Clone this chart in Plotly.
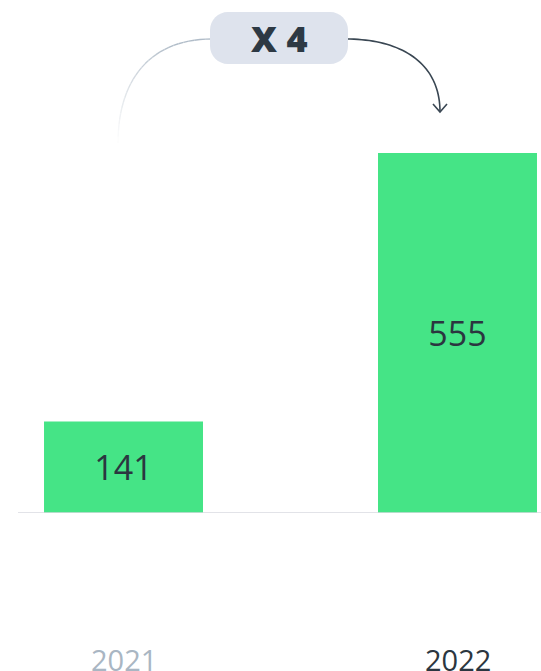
import plotly.graph_objects as go

# ---- data ----
years = ["2021", "2022"]
values = [141, 555]
year_colors = ["#A9B6C3", "#2B3640"]
multiplier_label = "X 4"

# ---- layout constants ----
W, H = 541, 671
ML, MR, MT, MB = 18, 0, 0, 671 - 513
BAR_COLOR = "#45E486"
TEXT_DARK = "#2B3640"

x_pos = list(range(len(years)))
X_RANGE = [-0.3159, 1.25]
Y_RANGE = [0, 791]
plot_w = W - ML - MR
plot_h = H - MT - MB


def px_x(px):
    return X_RANGE[0] + (px - ML) / plot_w * (X_RANGE[1] - X_RANGE[0])


def px_y(py):
    return Y_RANGE[0] + (H - MB - py) / plot_h * (Y_RANGE[1] - Y_RANGE[0])


fig = go.Figure()
fig.add_trace(go.Bar(
    x=x_pos, y=values, width=0.476,
    marker=dict(color=BAR_COLOR, line=dict(width=0)),
    text=[str(v) for v in values], textposition="inside",
    insidetextanchor="middle",
    textfont=dict(family="Open Sans", size=34, color=TEXT_DARK),
    hoverinfo="skip",
))

shapes = []
# baseline
shapes.append(dict(type="line", xref="paper", yref="y", x0=0, x1=1, y0=0, y1=0,
                   line=dict(color="#D8DAE0", width=1.3), layer="above"))


def bez(p0, p1, p2, p3, t):
    u = 1 - t
    return (u**3 * p0[0] + 3 * u * u * t * p1[0] + 3 * u * t * t * p2[0] + t**3 * p3[0],
            u**3 * p0[1] + 3 * u * u * t * p1[1] + 3 * u * t * t * p2[1] + t**3 * p3[1])


# left faded curve (pixel space control points)
L0, L1, L2, L3 = (118, 143), (118, 80), (150, 39), (212, 39)
N = 30
for i in range(N):
    a = bez(L0, L1, L2, L3, i / N)
    b = bez(L0, L1, L2, L3, (i + 1) / N)
    t = (i + 0.5) / N
    c0 = (255, 255, 255)
    c1 = (176, 188, 200)
    f = min(1, t * 1.3)
    col = "rgb(%d,%d,%d)" % tuple(int(c0[k] + (c1[k] - c0[k]) * f) for k in range(3))
    shapes.append(dict(type="line", xref="x", yref="y",
                       x0=px_x(a[0]), y0=px_y(a[1]), x1=px_x(b[0]), y1=px_y(b[1]),
                       line=dict(color=col, width=1.4)))

# right dark arrow curve
R0, R1, R2, R3 = (346, 39), (400, 39), (440, 62), (440, 112)
pts = [bez(R0, R1, R2, R3, i / 40) for i in range(41)]
path = "M " + " L ".join("%f,%f" % (px_x(p[0]), px_y(p[1])) for p in pts)
shapes.append(dict(type="path", xref="x", yref="y", path=path,
                   line=dict(color="#3A4753", width=1.6)))
# arrowhead
head = [(433, 104), (440, 112), (447, 104)]
path = "M " + " L ".join("%f,%f" % (px_x(p[0]), px_y(p[1])) for p in head)
shapes.append(dict(type="path", xref="x", yref="y", path=path,
                   line=dict(color="#3A4753", width=1.6)))

# pill (rounded rect)
x0, x1, y0, y1, r = 210, 348, 12, 64, 18
k = 0.55 * r
pp = [
    ("M", [(x0 + r, y0)]),
    ("L", [(x1 - r, y0)]),
    ("C", [(x1 - r + k, y0), (x1, y0 + r - k), (x1, y0 + r)]),
    ("L", [(x1, y1 - r)]),
    ("C", [(x1, y1 - r + k), (x1 - r + k, y1), (x1 - r, y1)]),
    ("L", [(x0 + r, y1)]),
    ("C", [(x0 + r - k, y1), (x0, y1 - r + k), (x0, y1 - r)]),
    ("L", [(x0, y0 + r)]),
    ("C", [(x0, y0 + r - k), (x0 + r - k, y0), (x0 + r, y0)]),
]
path = " ".join(cmd + " " + " ".join("%f,%f" % (px_x(a), px_y(b)) for a, b in p) for cmd, p in pp) + " Z"
shapes.append(dict(type="path", xref="x", yref="y", path=path,
                   fillcolor="#DEE3ED", line=dict(width=0)))

annotations = [
    dict(x=px_x(279), y=px_y(38), xref="x", yref="y", text=multiplier_label,
         showarrow=False, font=dict(family="Open Sans", size=36, weight=800, color="#2D3944"),
         xanchor="center", yanchor="middle"),
]
for xp, yr, c in zip(x_pos, years, year_colors):
    annotations.append(dict(x=xp, y=0, xref="x", yref="y", text=yr, showarrow=False,
                            xanchor="center", yanchor="middle", yshift=-146,
                            font=dict(family="Open Sans", size=29, color=c)))

fig.update_layout(
    width=W, height=H, margin=dict(l=ML, r=MR, t=MT, b=MB),
    paper_bgcolor="white", plot_bgcolor="white",
    showlegend=False,
    xaxis=dict(range=X_RANGE, visible=False, fixedrange=True),
    yaxis=dict(range=Y_RANGE, visible=False, fixedrange=True),
    shapes=shapes, annotations=annotations,
    uniformtext=dict(minsize=8, mode="show"),
)

fig.write_html(
    "out.html",
    config={"displayModeBar": False, "staticPlot": True},
    post_script="document.body.style.margin='0';document.body.style.overflow='hidden';",
)
